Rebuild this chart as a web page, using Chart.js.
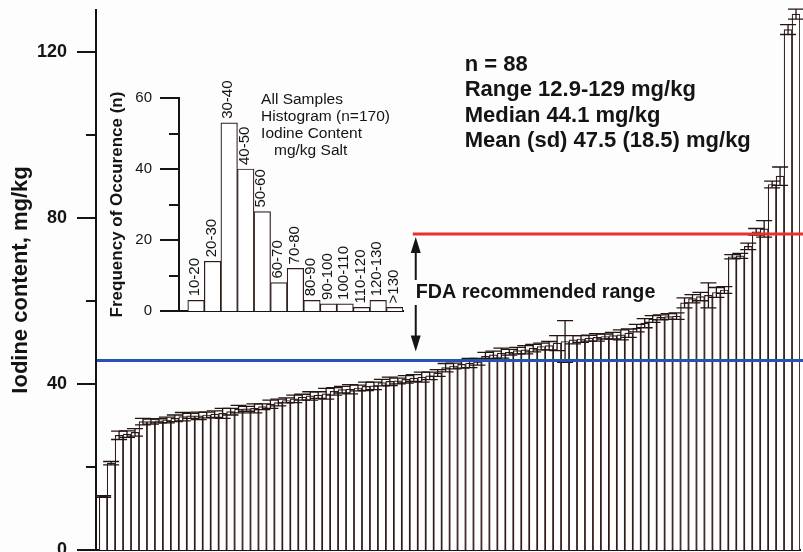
<!DOCTYPE html>
<html><head><meta charset="utf-8">
<script src="https://cdn.jsdelivr.net/npm/chart.js@4.4.1/dist/chart.umd.min.js"></script>
<style>
html,body{margin:0;padding:0;background:#fdfdfd;}
#wrap{position:relative;width:803px;height:552px;overflow:hidden;}
canvas{position:absolute;left:0;top:0;}
</style></head><body>
<div id="wrap"><canvas id="main" width="803" height="552"></canvas><canvas id="inset" width="803" height="552"></canvas></div>
<script>
// ---- main chart data: 88 salt samples sorted by iodine content (mg/kg) ----
const sampleMeans = [12.9,20.9,27.6,27.9,28.3,30.9,30.9,31.1,31.3,31.7,
  32.1,32.3,32.3,32.5,32.7,32.9,33.3,33.9,34.0,34.1,
  34.5,35.1,35.5,36.0,36.4,36.8,37.1,37.3,37.6,38.2,
  38.6,38.7,39.0,39.4,39.5,40.3,40.6,40.7,41.1,41.4,
  41.6,41.9,42.6,43.9,44.3,44.7,45.0,45.3,46.6,47.0,
  47.4,47.6,48.0,48.2,48.6,49.0,49.2,49.8,50.2,50.6,
  50.8,51.0,51.2,51.4,51.6,51.8,52.2,53.4,54.6,55.6,
  56.0,56.2,56.3,59.5,60.5,61.0,61.3,62.0,62.6,70.6,
  70.8,73.1,76.6,77.3,88.0,90.0,125.3,129.0];
const sampleSD = [0.2,0.4,1.0,0.8,0.9,0.8,0.6,0.5,0.7,0.8,
  1.0,0.6,0.9,0.7,0.8,1.2,0.8,0.9,0.6,1.1,
  0.7,1.0,0.8,0.6,0.9,0.7,1.0,0.8,1.3,0.9,
  0.8,1.1,0.7,1.0,0.9,0.8,1.0,0.7,0.9,0.8,
  1.2,0.9,0.8,1.0,0.7,0.9,1.1,0.8,1.0,0.9,
  1.2,0.7,0.8,1.0,0.9,0.8,1.0,1.8,5.0,1.0,
  0.8,0.7,0.9,0.6,0.8,1.2,1.0,0.9,1.1,0.8,
  0.6,0.7,0.8,1.2,1.0,1.0,3.0,1.2,0.8,0.5,
  0.6,0.8,0.8,2.0,0.8,2.2,1.2,1.2];
const sampleRank = sampleMeans.map((_, i) => i + 1);
const mainTickValues = [0, 20, 40, 60, 80, 100, 120];
const mainTickLabels = ['0', '', '40', '', '80', '', '120'];
const fdaLow = 45.6;
const fdaHigh = 76.1;
const statsLines = ['n = 88', 'Range 12.9-129 mg/kg', 'Median 44.1 mg/kg', 'Mean (sd) 47.5 (18.5) mg/kg'];
const fdaLabel = 'FDA recommended range';
const yTitle = 'Iodine content, mg/kg';

// ---- inset histogram data ----
const binLabels = ['10-20','20-30','30-40','40-50','50-60','60-70','70-80','80-90','90-100','100-110','110-120','120-130','>130'];
const binCounts = [3, 14, 53, 40, 28, 8, 12, 3, 2, 2, 1, 3, 1];
const insetTickValues = [0, 10, 20, 30, 40, 50, 60];
const insetTickLabels = ['0', '', '20', '', '40', '', '60'];
const insetTitle = 'Frequency of Occurence (n)';
const insetNote = ['All Samples', 'Histogram (n=170)', 'Iodine Content', '   mg/kg Salt'];

const FONT = "'Liberation Sans', Arial, Helvetica, sans-serif";
Chart.defaults.font.family = FONT;
const INK = '#141414';
const BAR_LINE = '#2e1c18';

function drawTicks(chart, values, majorEvery) {
  const ys = chart.scales.y, ctx = chart.ctx, left = chart.chartArea.left;
  ctx.save();
  ctx.strokeStyle = INK; ctx.lineWidth = 2;
  values.forEach(v => {
    const y = Math.round(ys.getPixelForValue(v));
    const len = (v % majorEvery === 0) ? 19 : 10;
    ctx.beginPath(); ctx.moveTo(left - len, y); ctx.lineTo(left, y); ctx.stroke();
  });
  ctx.restore();
}

const mainPlugin = {
  id: 'mainDecor',
  afterDatasetsDraw(chart) {
    const ctx = chart.ctx, xs = chart.scales.x, ys = chart.scales.y, ca = chart.chartArea;
    // error bars
    ctx.save();
    ctx.strokeStyle = '#221512'; ctx.lineWidth = 1.3;
    sampleMeans.forEach((m, i) => {
      const x = xs.getPixelForValue(sampleRank[i]);
      const yt = ys.getPixelForValue(m + sampleSD[i]);
      const yb = ys.getPixelForValue(m - sampleSD[i]);
      ctx.beginPath();
      ctx.moveTo(x, yb); ctx.lineTo(x, yt);
      ctx.moveTo(x - 8, yt); ctx.lineTo(x + 8, yt);
      ctx.moveTo(x - 8, yb); ctx.lineTo(x + 8, yb);
      ctx.stroke();
    });
    ctx.restore();
    drawTicks(chart, mainTickValues, 40);

    // FDA range lines and arrows
    const W = chart.width;
    const yHi = ys.getPixelForValue(fdaHigh);
    const yLo = ys.getPixelForValue(fdaLow);
    const ax = xs.getPixelForValue(40.25);
    ctx.save();
    ctx.lineWidth = 3;
    ctx.strokeStyle = '#2554b0';
    ctx.beginPath(); ctx.moveTo(ca.left + 1, yLo); ctx.lineTo(W, yLo); ctx.stroke();
    ctx.strokeStyle = '#e8312a';
    ctx.beginPath(); ctx.moveTo(ax - 3, yHi); ctx.lineTo(W, yHi); ctx.stroke();
    // arrows
    ctx.fillStyle = INK; ctx.strokeStyle = INK; ctx.lineWidth = 2;
    const upTip = yHi + 3, dnTip = yLo - 9;
    ctx.beginPath(); ctx.moveTo(ax, upTip + 12); ctx.lineTo(ax, 280); ctx.stroke();
    ctx.beginPath(); ctx.moveTo(ax, upTip); ctx.lineTo(ax - 5, upTip + 16); ctx.lineTo(ax + 5, upTip + 16); ctx.closePath(); ctx.fill();
    ctx.beginPath(); ctx.moveTo(ax, 305); ctx.lineTo(ax, dnTip - 12); ctx.stroke();
    ctx.beginPath(); ctx.moveTo(ax, dnTip); ctx.lineTo(ax - 5, dnTip - 16); ctx.lineTo(ax + 5, dnTip - 16); ctx.closePath(); ctx.fill();
    // FDA label
    ctx.font = 'bold 19.7px ' + FONT;
    ctx.textAlign = 'left'; ctx.textBaseline = 'alphabetic';
    ctx.fillText(fdaLabel, ax, 298);
    // stats text
    ctx.font = 'bold 22px ' + FONT;
    const sx = xs.getPixelForValue(46.4);
    statsLines.forEach((t, i) => ctx.fillText(t, sx, 71 + i * 25.3));
    ctx.restore();
  }
};

new Chart(document.getElementById('main'), {
  type: 'bar',
  data: {
    datasets: [{
      data: sampleMeans.map((m, i) => ({x: sampleRank[i], y: m})),
      backgroundColor: '#ffffff',
      borderColor: BAR_LINE,
      borderWidth: 1.2,
      barPercentage: 1,
      categoryPercentage: 1
    }]
  },
  options: {
    responsive: false, animation: false,
    layout: {padding: {left: 4, top: 10, right: 3, bottom: 2}},
    plugins: {legend: {display: false}, tooltip: {enabled: false}},
    scales: {
      x: {
        type: 'linear', min: 0.1, max: 88.5, offset: false,
        ticks: {display: false, stepSize: 100, includeBounds: false},
        grid: {display: false, drawTicks: false, offset: false},
        border: {display: true, color: INK, width: 2},
        afterFit: s => { s.height = 0; s.paddingLeft = 0; s.paddingRight = 0; }
      },
      y: {
        min: 0, max: 130,
        afterBuildTicks: s => { s.ticks = mainTickValues.map(v => ({value: v})); },
        ticks: {
          padding: 29, color: INK,
          font: {size: 18, weight: 'bold'},
          callback: (v) => { const k = mainTickValues.indexOf(v); return k >= 0 ? mainTickLabels[k] : ''; }
        },
        grid: {display: false, drawTicks: false},
        border: {display: true, color: INK, width: 2},
        title: {display: true, text: yTitle, color: INK, font: {size: 22, weight: 'bold'}, padding: {top: 4, bottom: 4}},
        afterFit: s => { s.width = 92; s.paddingTop = 0; s.paddingBottom = 0; }
      }
    }
  },
  plugins: [mainPlugin]
});

const insetPlugin = {
  id: 'insetDecor',
  afterDatasetsDraw(chart) {
    const ctx = chart.ctx, xs = chart.scales.x, ys = chart.scales.y;
    drawTicks(chart, insetTickValues, 20);
    ctx.save();
    ctx.fillStyle = INK;
    ctx.font = '15px ' + FONT;
    ctx.textAlign = 'left'; ctx.textBaseline = 'middle';
    binCounts.forEach((c, i) => {
      const x = xs.getPixelForValue(i) - 1;
      const y = ys.getPixelForValue(c) - 4;
      ctx.save(); ctx.translate(x, y); ctx.rotate(-Math.PI / 2);
      ctx.fillText(binLabels[i], 0, 0);
      ctx.restore();
    });
    ctx.textBaseline = 'alphabetic';
    ctx.font = '15.5px ' + FONT;
    const nx = xs.getPixelForValue(3.93);
    insetNote.forEach((t, i) => ctx.fillText(t, nx, ys.getPixelForValue(58.4) + i * 17.2));
    ctx.restore();
  }
};

new Chart(document.getElementById('inset'), {
  type: 'bar',
  data: {
    datasets: [{
      data: binCounts.map((c, i) => ({x: i, y: c})),
      backgroundColor: '#ffffff',
      borderColor: BAR_LINE,
      borderWidth: 1.2,
      barPercentage: 1,
      categoryPercentage: 1
    }]
  },
  options: {
    responsive: false, animation: false,
    layout: {padding: {left: 103, top: 98, right: 400, bottom: 241}},
    plugins: {legend: {display: false}, tooltip: {enabled: false}},
    scales: {
      x: {
        type: 'linear', min: -1.03, max: 12.5, offset: false,
        ticks: {display: false, stepSize: 100, includeBounds: false},
        grid: {display: false, drawTicks: false, offset: false},
        border: {display: true, color: INK, width: 2},
        afterFit: s => { s.height = 0; s.paddingLeft = 0; s.paddingRight = 0; }
      },
      y: {
        min: 0, max: 60,
        afterBuildTicks: s => { s.ticks = insetTickValues.map(v => ({value: v})); },
        ticks: {
          padding: 27, color: INK,
          font: {size: 15},
          callback: (v) => { const k = insetTickValues.indexOf(v); return k >= 0 ? insetTickLabels[k] : ''; }
        },
        grid: {display: false, drawTicks: false},
        border: {display: true, color: INK, width: 2},
        title: {display: true, text: insetTitle, color: INK, font: {size: 17, weight: 'bold'}, padding: {top: 4, bottom: 4}},
        afterFit: s => { s.width = 76; s.paddingTop = 0; s.paddingBottom = 0; }
      }
    }
  },
  plugins: [insetPlugin]
});
</script>
</body></html>
